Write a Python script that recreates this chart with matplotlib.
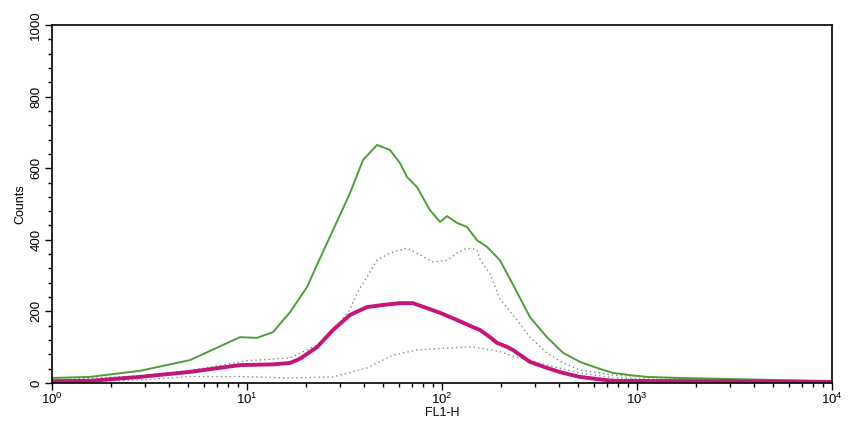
import numpy as np
import matplotlib.pyplot as plt
from matplotlib.ticker import MultipleLocator, LogLocator, FixedLocator

plt.rcParams['font.family'] = ['Liberation Sans', 'DejaVu Sans']
plt.rcParams['mathtext.fontset'] = 'custom'
plt.rcParams['mathtext.rm'] = 'Liberation Sans'
plt.rcParams['mathtext.default'] = 'regular'

# === DATA (x given as decades of FL1-H) ===
green_dec = [0.000, 0.195, 0.451, 0.708, 0.964, 1.051, 1.133, 1.221, 1.308, 1.359,
             1.441, 1.528, 1.595, 1.667, 1.733, 1.785, 1.821, 1.872, 1.938, 1.990,
             2.026, 2.077, 2.128, 2.179, 2.231, 2.297, 2.364, 2.451, 2.538, 2.621,
             2.708, 2.795, 2.877, 2.964, 3.051, 3.221, 3.579, 4.000]
green_cnt = [14, 17, 34, 64, 128, 126, 142, 198, 268, 330,
             427, 530, 623, 665, 651, 614, 575, 547, 483, 450,
             466, 447, 436, 399, 380, 343, 275, 184, 128, 84,
             59, 42, 28, 22, 17, 14, 10, 5]

magenta_dec = [0.000, 0.195, 0.451, 0.708, 0.964, 1.133, 1.221, 1.272, 1.359, 1.441,
               1.528, 1.615, 1.697, 1.785, 1.851, 1.923, 1.990, 2.077, 2.159, 2.195,
               2.246, 2.282, 2.333, 2.364, 2.451, 2.538, 2.621, 2.708, 2.795, 2.877,
               3.323, 4.000]
magenta_cnt = [5, 6, 17, 31, 50, 52, 56, 68, 100, 148,
               190, 212, 218, 223, 223, 209, 196, 176, 156, 148,
               128, 112, 101, 92, 59, 42, 28, 17, 11, 6,
               5, 3]

dot_hi_dec = [0.000, 0.451, 0.708, 1.000, 1.221, 1.374, 1.477, 1.528, 1.564, 1.615,
              1.667, 1.733, 1.821, 1.887, 1.954, 2.026, 2.077, 2.128, 2.179, 2.195,
              2.246, 2.297, 2.364, 2.451, 2.538, 2.621, 2.708, 2.877, 3.221, 4.000]
dot_hi_cnt = [8, 20, 35, 62, 70, 110, 170, 205, 251, 296,
              343, 363, 377, 358, 338, 343, 363, 377, 372, 345,
              305, 235, 190, 128, 84, 56, 36, 22, 12, 4]

dot_lo_dec = [0.000, 0.451, 0.708, 0.964, 1.221, 1.441, 1.615, 1.749, 1.872, 2.041,
              2.159, 2.195, 2.297, 2.364, 2.436, 2.538, 2.708, 2.877, 3.221, 4.000]
dot_lo_cnt = [3, 8, 18, 18, 14, 17, 42, 78, 92, 98,
              101, 97, 88, 75, 65, 50, 28, 15, 8, 3]

fig = plt.figure(figsize=(8.51, 4.33), dpi=100)
ax = fig.add_axes([0.0611, 0.1155, 0.9166, 0.8268])

dots = (0, (1, 2.2))
ax.plot(10 ** np.array(dot_lo_dec), dot_lo_cnt, color="#8a8a8a", lw=1.0, ls=dots)
ax.plot(10 ** np.array(dot_hi_dec), dot_hi_cnt, color="#7f8a7f", lw=1.0, ls=dots)
ax.plot(10 ** np.array(green_dec), green_cnt, color="#4f9e3c", lw=1.4)
ax.plot(10 ** np.array(magenta_dec), magenta_cnt, color="#c4157a", lw=2.8)

ax.set_xscale("log")
ax.set_xlim(1, 10000)
ax.set_ylim(0, 1000)

ax.yaxis.set_major_locator(MultipleLocator(200))
ax.yaxis.set_minor_locator(MultipleLocator(40))
ax.xaxis.set_major_locator(FixedLocator([1, 10, 100, 1000, 10000]))
ax.xaxis.set_minor_locator(LogLocator(base=10, subs=np.arange(2, 10)))
ax.set_xticklabels([r"$10^{0}$", r"$10^{1}$", r"$10^{2}$", r"$10^{3}$", r"$10^{4}$"], fontsize=9.5)
ax.set_yticks([0, 200, 400, 600, 800, 1000])
ax.set_yticklabels(["0", "200", "400", "600", "800", "1000"], rotation=90, va="center", fontsize=9.5)

ax.tick_params(axis="both", which="major", direction="out", length=5, width=1, pad=2)
ax.tick_params(axis="both", which="minor", direction="out", length=3, width=1)
ax.tick_params(axis="x", which="major", pad=1)

for s in ax.spines.values():
    s.set_linewidth(1.2)
    s.set_color("black")

ax.set_ylabel("Counts", fontsize=9, labelpad=3)
ax.set_xlabel("FL1-H", fontsize=9, labelpad=0)

plt.savefig("out.png", dpi=100)
